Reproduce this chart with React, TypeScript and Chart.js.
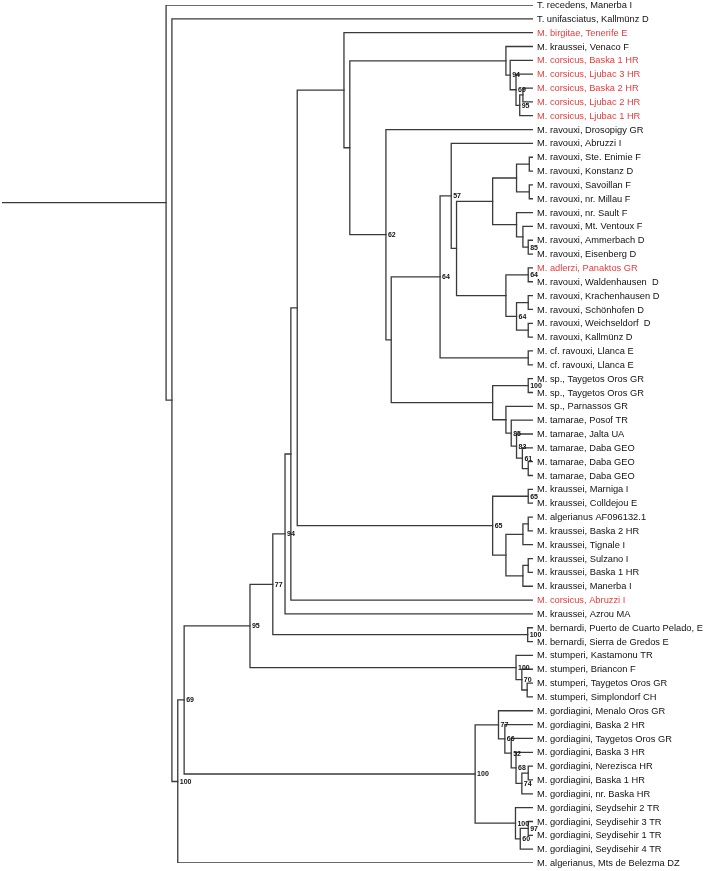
import React, { useEffect, useRef } from "react";
import { Chart, registerables } from "chart.js";

Chart.register(...registerables);

// Taxa (tips), top to bottom
const leafLabels: string[] = [
  "T. recedens, Manerba I",
  "T. unifasciatus, Kallmünz D",
  "M. birgitae, Tenerife E",
  "M. kraussei, Venaco F",
  "M. corsicus, Baska 1 HR",
  "M. corsicus, Ljubac 3 HR",
  "M. corsicus, Baska 2 HR",
  "M. corsicus, Ljubac 2 HR",
  "M. corsicus, Ljubac 1 HR",
  "M. ravouxi, Drosopigy GR",
  "M. ravouxi, Abruzzi I",
  "M. ravouxi, Ste. Enimie F",
  "M. ravouxi, Konstanz D",
  "M. ravouxi, Savoillan F",
  "M. ravouxi, nr. Millau F",
  "M. ravouxi, nr. Sault F",
  "M. ravouxi, Mt. Ventoux F",
  "M. ravouxi, Ammerbach D",
  "M. ravouxi, Eisenberg D",
  "M. adlerzi, Panaktos GR",
  "M. ravouxi, Waldenhausen  D",
  "M. ravouxi, Krachenhausen D",
  "M. ravouxi, Schönhofen D",
  "M. ravouxi, Weichseldorf  D",
  "M. ravouxi, Kallmünz D",
  "M. cf. ravouxi, Llanca E",
  "M. cf. ravouxi, Llanca E",
  "M. sp., Taygetos Oros GR",
  "M. sp., Taygetos Oros GR",
  "M. sp., Parnassos GR",
  "M. tamarae, Posof TR",
  "M. tamarae, Jalta UA",
  "M. tamarae, Daba GEO",
  "M. tamarae, Daba GEO",
  "M. tamarae, Daba GEO",
  "M. kraussei, Marniga I",
  "M. kraussei, Colldejou E",
  "M. algerianus AF096132.1",
  "M. kraussei, Baska 2 HR",
  "M. kraussei, Tignale I",
  "M. kraussei, Sulzano I",
  "M. kraussei, Baska 1 HR",
  "M. kraussei, Manerba I",
  "M. corsicus, Abruzzi I",
  "M. kraussei, Azrou MA",
  "M. bernardi, Puerto de Cuarto Pelado, E",
  "M. bernardi, Sierra de Gredos E",
  "M. stumperi, Kastamonu TR",
  "M. stumperi, Briancon F",
  "M. stumperi, Taygetos Oros GR",
  "M. stumperi, Simplondorf CH",
  "M. gordiagini, Menalo Oros GR",
  "M. gordiagini, Baska 2 HR",
  "M. gordiagini, Taygetos Oros GR",
  "M. gordiagini, Baska 3 HR",
  "M. gordiagini, Nerezisca HR",
  "M. gordiagini, Baska 1 HR",
  "M. gordiagini, nr. Baska HR",
  "M. gordiagini, Seydsehir 2 TR",
  "M. gordiagini, Seydisehir 3 TR",
  "M. gordiagini, Seydisehir 1 TR",
  "M. gordiagini, Seydisehir 4 TR",
  "M. algerianus, Mts de Belezma DZ",
];

// Tips shown in red
const highlightedLeaves: number[] = [2, 4, 5, 6, 7, 8, 19, 43];

// Internal nodes
const nodeNames: string[] = [
  "root", "A", "B", "C", "D", "E", "F", "G", "H", "J",
  "K", "L", "M", "N", "O", "P", "Q0", "Q", "R", "S",
  "T", "U", "U1", "U1a", "U1b", "U2", "W", "U2c", "V", "V1",
  "V2", "V2a", "V2b", "CF", "X", "X1", "X2", "X3", "X4", "X5",
  "X6", "Y", "Y1", "Y2", "Y3", "Y3a", "Y4", "Y4a", "BE", "S0",
  "S1", "S2", "Z", "Z1", "Z1a", "Z1b", "Z1c", "Z1d", "Z1e", "Z2",
  "Z2a", "Z2b",
];

// Distance from the root stem (tips at 100)
const nodeDepth: number[] = [
  30.9, 32.0, 33.1, 34.3, 46.7, 51.0, 53.3, 54.4, 55.6, 64.4,
  65.5, 94.9, 95.7, 96.8, 97.5, 98.1, 72.3, 73.3, 82.5, 84.6,
  85.6, 92.4, 96.9, 99.3, 99.3, 96.9, 98.1, 99.1, 94.9, 99.1,
  96.9, 99.1, 99.1, 99.1, 92.4, 99.1, 94.9, 95.9, 96.9, 98.0,
  99.1, 92.4, 99.1, 94.9, 98.1, 99.1, 98.1, 99.1, 99.0, 96.8,
  97.9, 98.9, 89.1, 93.5, 94.7, 95.9, 96.8, 97.9, 99.1, 96.7,
  97.6, 99.1,
];

// Children: number = tip index, string = internal node
const nodeChildren: (number | string)[][] = [
  [0, "A"], [1, "B"], ["C", 62], ["D", "Z"], ["E", "S0"], ["F", "BE"], ["G", 44], ["H", 43], ["J", "Y"], [2, "K"],
  ["L", "Q0"], [3, "M"], [4, "N"], [5, "O"], ["P", 8], [6, 7], [9, "Q"], ["R", "X"], ["S", "CF"], [10, "T"],
  ["U", "V"], ["U1", "U2"], ["U1a", "U1b"], [11, 12], [13, 14], [15, "W"], [16, "U2c"], [17, 18], ["V1", "V2"], [19, 20],
  ["V2a", "V2b"], [21, 22], [23, 24], [25, 26], ["X1", "X2"], [27, 28], [29, "X3"], [30, "X4"], [31, "X5"], [32, "X6"],
  [33, 34], ["Y1", "Y2"], [35, 36], ["Y3", "Y4"], ["Y3a", 39], [37, 38], ["Y4a", 42], [40, 41], [45, 46], [47, "S1"],
  [48, "S2"], [49, 50], ["Z1", "Z2"], [51, "Z1a"], [52, "Z1b"], [53, "Z1c"], [54, "Z1d"], ["Z1e", 57], [55, 56], [58, "Z2a"],
  ["Z2b", 61], [59, 60],
];

// Bootstrap support
const nodeSupport: (number | null)[] = [
  null, null, 100, 69, 95, 77, 94, null, null, null,
  null, null, 94, 69, 95, null, 62, null, 64, 57,
  null, null, null, null, null, null, null, 85, null, 64,
  64, null, null, null, null, 100, null, 85, 83, 61,
  null, 65, 65, null, null, null, null, null, 100, 100,
  70, null, 100, 77, 66, 52, 68, 74, null, 100,
  60, 97,
];

const TIP_DEPTH = 100;
const LINE_COLOR = "#3a3a3a";
const RED = "#ea3b3b";
const FONT = "'Liberation Sans', Arial, Helvetica, sans-serif";

function buildTree() {
  const index = new Map<string, number>();
  nodeNames.forEach((n, i) => index.set(n, i));
  const cache = new Map<string, number>();
  const yOf = (c: number | string): number => {
    if (typeof c === "number") return c;
    if (cache.has(c)) return cache.get(c)!;
    const kids = nodeChildren[index.get(c)!];
    const y = (yOf(kids[0]) + yOf(kids[kids.length - 1])) / 2;
    cache.set(c, y);
    return y;
  };
  const xOf = (c: number | string): number =>
    typeof c === "number" ? TIP_DEPTH : nodeDepth[index.get(c)!];
  const segments: { x: number; y: number }[][] = [];
  const rootY = yOf(nodeNames[0]);
  segments.push([
    { x: 0, y: rootY },
    { x: nodeDepth[0], y: rootY },
  ]);
  const supports: { x: number; y: number; t: string }[] = [];
  nodeNames.forEach((name, i) => {
    const kids = nodeChildren[i];
    const first = kids[0];
    const last = kids[kids.length - 1];
    const d = nodeDepth[i];
    segments.push([
      { x: xOf(first), y: yOf(first) },
      { x: d, y: yOf(first) },
      { x: d, y: yOf(last) },
      { x: xOf(last), y: yOf(last) },
    ]);
    if (nodeSupport[i] !== null) {
      supports.push({ x: d, y: yOf(name), t: String(nodeSupport[i]) });
    }
  });
  return { segments, supports };
}

export default function App() {
  const canvasRef = useRef<HTMLCanvasElement | null>(null);

  useEffect(() => {
    const canvas = canvasRef.current;
    if (!canvas) return;
    const { segments, supports } = buildTree();

    const labelPlugin = {
      id: "treeLabels",
      afterDatasetsDraw(chart: any) {
        const ctx = chart.ctx as CanvasRenderingContext2D;
        const xs = chart.scales.x;
        const ys = chart.scales.y;
        ctx.save();
        ctx.textBaseline = "middle";
        ctx.textAlign = "left";
        ctx.font = `9.3px ${FONT}`;
        const tipX = xs.getPixelForValue(TIP_DEPTH);
        leafLabels.forEach((lab, i) => {
          ctx.fillStyle = highlightedLeaves.includes(i) ? RED : "#111111";
          ctx.fillText(lab, tipX + 4, ys.getPixelForValue(i) + 0.5);
        });
        ctx.font = `bold 7px ${FONT}`;
        ctx.fillStyle = "#111111";
        supports.forEach((s) => {
          ctx.fillText(s.t, xs.getPixelForValue(s.x) + 2, ys.getPixelForValue(s.y) + 0.5);
        });
        ctx.restore();
      },
    };

    const chart = new Chart(canvas, {
      type: "scatter",
      data: {
        datasets: segments.map((pts) => ({
          data: pts,
          showLine: true,
          borderColor: LINE_COLOR,
          backgroundColor: LINE_COLOR,
          borderWidth: 1.3,
          pointRadius: 0,
          pointHoverRadius: 0,
          tension: 0,
          fill: false,
          borderCapStyle: "square" as const,
          borderJoinStyle: "miter" as const,
        })),
      },
      options: {
        animation: false,
        responsive: false,
        devicePixelRatio: 1,
        events: [],
        layout: { padding: { left: 2, right: 173, top: 5, bottom: 8 } },
        scales: {
          x: { type: "linear", min: 0, max: TIP_DEPTH, display: false },
          y: { type: "linear", min: 0, max: leafLabels.length - 1, reverse: true, display: false },
        },
        plugins: {
          legend: { display: false },
          tooltip: { enabled: false },
          title: { display: false },
        },
      },
      plugins: [labelPlugin],
    });
    return () => chart.destroy();
  }, []);

  return (
    <canvas
      ref={canvasRef}
      width={706}
      height={871}
      style={{ position: "absolute", left: 0, top: 0, background: "#ffffff" }}
    />
  );
}
